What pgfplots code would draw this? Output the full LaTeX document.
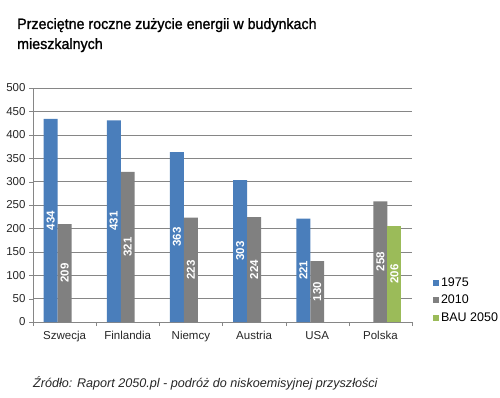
\documentclass[border=0pt]{standalone}
\usepackage{pgfplots}
\pgfplotsset{compat=1.18}
\usepackage{fontspec}
\setmainfont{Liberation Sans}
\newfontfamily\titlefont[FakeStretch=0.95,FakeBold=1.3]{Liberation Sans}
\definecolor{cblue}{HTML}{4A7EBB}
\definecolor{cgray}{HTML}{808080}
\definecolor{cgreen}{HTML}{9BBB59}
\definecolor{cgrid}{HTML}{868686}
\definecolor{ctext}{HTML}{262626}
\begin{document}
\begin{tikzpicture}
\path[use as bounding box] (0,0) rectangle (500pt,397pt);
\node[anchor=base west, inner sep=0pt, font=\titlefont\fontsize{15}{15}\selectfont, text=black] at (17pt,368pt) {Przeciętne roczne zużycie energii w budynkach};
\node[anchor=base west, inner sep=0pt, font=\titlefont\fontsize{15}{15}\selectfont, text=black] at (17pt,348pt) {mieszkalnych};
\node[anchor=base west, inner sep=0pt, font=\itshape\fontsize{12.6}{12.6}\selectfont, text=ctext] at (33pt,10pt) {Źródło: Raport 2050.pl - podróż do niskoemisyjnej przyszłości};
\begin{axis}[
  at={(33pt,75pt)}, anchor=south west,
  scale only axis, width=379pt, height=234pt,
  ybar=0pt, bar width=0.2215,
  xmin=-0.5, xmax=5.5, ymin=0, ymax=500,
  xtick={0,1,2,3,4,5},
  xticklabels={Szwecja,Finlandia,Niemcy,Austria,USA,Polska},
  major x tick style={draw=none},
  minor xtick={-0.5,0.5,1.5,2.5,3.5,4.5,5.5},
  minor x tick style={draw=cgrid},
  minor tick length=4pt,
  ytick={0,50,...,500},
  major tick length=4pt,
  tick align=outside, tick pos=left,
  ymajorgrids, grid style={cgrid, line width=0.6pt},
  axis x line*=bottom, axis y line*=left,
  axis line style={cgrid, line width=0.6pt},
  y tick style={cgrid},
  ticklabel style={font=\fontsize{11.5}{11.5}\selectfont, text=ctext},
  /pgf/number format/assume math mode=true,
  xticklabel style={yshift=-2pt},
  legend style={at={(1.055,0.20)}, anchor=north west, draw=none, fill=none,
    font=\fontsize{12.5}{12.5}\selectfont, inner sep=0pt,
    row sep=3.5pt, /tikz/every even column/.append style={column sep=0pt}},
  legend cell align=left,
  visualization depends on=y \as \rawy,
  nodes near coords,
  every node near coord/.append style={font=\bfseries\fontsize{11.5}{11.5}\selectfont, text=white,
    anchor=center, shift={(axis direction cs:0,-\rawy/2)}, rotate=90},
]
\addplot[fill=cblue, draw=none, legend image code/.code={\fill[cblue] (0pt,-3pt) rectangle (6pt,3pt);}]
  coordinates {(0,434) (1,431) (2,363) (3,303) (4,221)};
\addplot[fill=cgray, draw=none, legend image code/.code={\fill[cgray] (0pt,-3pt) rectangle (6pt,3pt);}]
  coordinates {(0,209) (1,321) (2,223) (3,224) (4,130) (5,258)};
\addplot[fill=cgreen, draw=none, legend image code/.code={\fill[cgreen] (0pt,-3pt) rectangle (6pt,3pt);}]
  coordinates {(5,206)};
\legend{1975,2010,BAU 2050}
\end{axis}
\end{tikzpicture}
\end{document}
